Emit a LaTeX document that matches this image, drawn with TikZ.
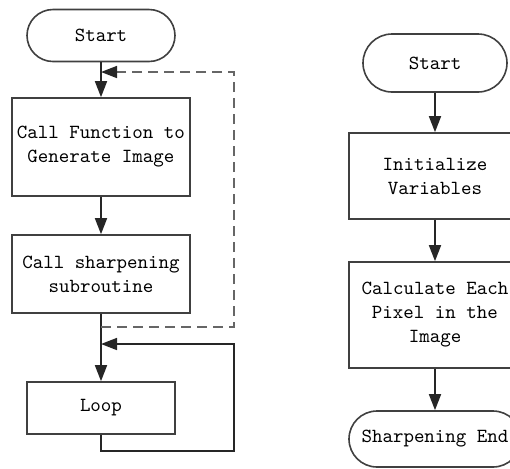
\documentclass[tikz,border=0pt]{standalone}
\usetikzlibrary{arrows.meta,positioning}

\begin{document}
\begin{tikzpicture}[    font=\ttfamily,
    >={Triangle[width=6pt,length=8pt]},
    node distance=60pt,
    base/.style={draw=black!75, line width=0.8pt, on grid, align=center, fill=white, inner sep=2pt},
    proc/.style={base, rectangle, minimum width=89pt},
    term/.style={base, rectangle, rounded corners=13pt, minimum width=74pt, minimum height=26pt},
    norm/.style={->, draw, line width=0.8pt, black!85},
    back/.style={-{Triangle[width=6pt,length=8pt,color=black!85,fill=black!85]}, draw, line width=0.8pt, dashed, dash pattern=on 5pt off 3pt, black!60}]

\clip (0,0) rectangle (255pt,-234pt);

% main program
\node [term] (start1) at (50.5pt,-17.75pt) {Start};
\node [proc, minimum height=49pt] (gen) [below=55.75pt of start1] {Call Function to\\Generate Image};
\node [proc, minimum height=39pt] (sharp) [below=63.5pt of gen] {Call sharpening\\subroutine};
\node [term, rounded corners=0pt] (loop) [below=67pt of sharp] {Loop};

% sharpening subroutine
\node [term, minimum width=72pt, minimum height=29pt, rounded corners=14.5pt] (start2) at (217.5pt,-31.5pt) {Start};
\node [proc, minimum width=86pt, minimum height=43pt] (init) [below=56.5pt of start2] {Initialize\\Variables};
\node [proc, minimum width=86pt, minimum height=53pt] (calc) [below=69.5pt of init] {Calculate Each\\Pixel in the\\Image};
\node [term, minimum width=86pt, minimum height=28pt, rounded corners=14pt] (end) [below=62pt of calc] {Sharpening End};

\coordinate (dr) at (117pt,-163.5pt);
\coordinate (dt) at (117pt,-36pt);
\coordinate (lt) at (117pt,-172pt);
\coordinate (lb) at (117pt,-225.5pt);

\draw [norm] (start1) -- (gen);
\draw [norm] (gen) -- (sharp);
\draw [norm] (sharp) -- (loop);
\draw [back] (sharp.south |- dr) -- (dr) -- (dt) -- (start1.south |- dt);
\draw [norm] (loop.south) |- (lb) -- (lt) -- (loop.north |- lt);

\draw [norm] (start2) -- (init);
\draw [norm] (init) -- (calc);
\draw [norm] (calc) -- (end);

\end{tikzpicture}
\end{document}
